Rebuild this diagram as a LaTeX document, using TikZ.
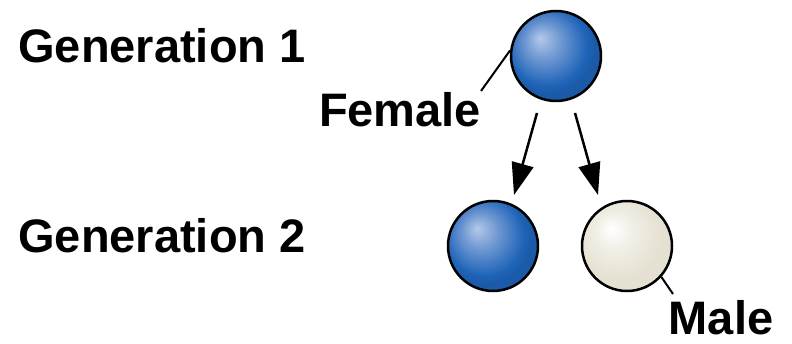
\documentclass[tikz,border=0pt]{standalone}
\usepackage{fontspec}
\setmainfont{Liberation Sans}
\usetikzlibrary{arrows.meta}
\definecolor{bhi}{HTML}{B4C9E8}
\definecolor{bmid}{HTML}{6E97D2}
\definecolor{bmain}{HTML}{1F64B8}
\definecolor{bedge}{HTML}{1A5AA8}
\definecolor{whi}{HTML}{FFFFFF}
\definecolor{wmid}{HTML}{F1EFE6}
\definecolor{wmain}{HTML}{E4E1D2}
\pgfdeclareradialshading{blueball}{\pgfpoint{-9bp}{10bp}}{color(0bp)=(bhi); color(10bp)=(bmid); color(22bp)=(bmain); color(26bp)=(bedge); color(50bp)=(bedge)}
\pgfdeclareradialshading{whiteball}{\pgfpoint{-9bp}{10bp}}{color(0bp)=(whi); color(10bp)=(wmid); color(24bp)=(wmain); color(50bp)=(wmain)}
\tikzset{
  lbl/.style={font=\bfseries\fontsize{47}{50}\selectfont, inner sep=0pt},
  ball/.style={circle, draw=black, line width=2.5pt, minimum size=90pt, inner sep=0pt},
  blue ball/.style={ball, shading=blueball},
  white ball/.style={ball, shading=whiteball},
  leader/.style={line width=2pt},
  gen arrow/.style={line width=2.5pt, -{Triangle[width=22pt,length=32pt]}}
}
\begin{document}
\begin{tikzpicture}[x=1pt,y=-1pt]
\useasboundingbox (0,0) rectangle (792,344);
\node[lbl] (g1) at (162,46) {Generation 1};
\node[lbl] (g2) at (162,236) {Generation 2};
\node[blue ball] (p) at (556,56) {};
\node[blue ball] (c1) at (493,246) {};
\node[white ball] (c2) at (627,246) {};
\node[lbl] (fem) at (400,110) {Female};
\node[lbl] (male) at (721,318) {Male};
\coordinate (fl) at (481,91);
\coordinate (ml) at (673,294);
\draw[leader] (p.173) -- (fl);
\draw[leader] (c2.-42) -- (ml);
\coordinate (a1s) at (537,113);
\coordinate (a1e) at (514,195);
\coordinate (a2s) at (575,113);
\coordinate (a2e) at (598,195);
\draw[gen arrow] (a1s) -- (a1e);
\draw[gen arrow] (a2s) -- (a2e);
\end{tikzpicture}
\end{document}
